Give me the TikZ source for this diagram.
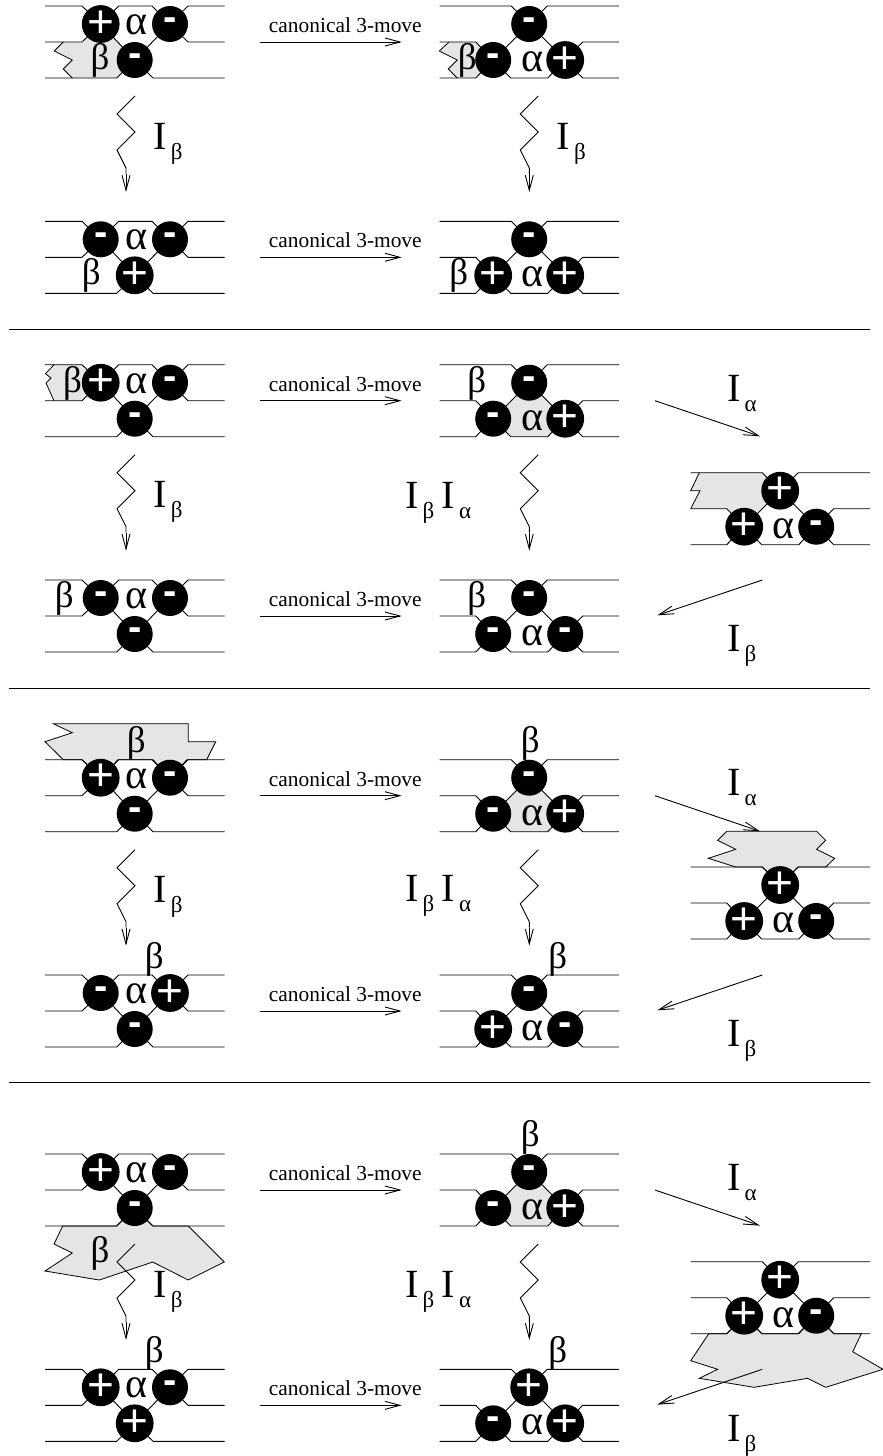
\documentclass[tikz,border=0pt]{standalone}
\usepackage{fontspec}
\setmainfont{Liberation Serif}
\newfontfamily\signfont{Liberation Sans}
\usetikzlibrary{arrows.meta}
\definecolor{regiongrey}{HTML}{E5E5E5}
\tikzset{
  x=1pt,y=-1pt,
  strand/.style={line width=0.9pt,black},
  crossing/.style={circle,fill=black,draw=none,inner sep=0pt,minimum size=36pt,text=white},
  region/.style={fill=regiongrey,draw=black,line width=0.8pt},
  softregion/.style={fill=regiongrey,draw=none},
  movearrow/.style={line width=0.9pt,-{Straight Barb[length=15pt,width=8pt]}},
  greek/.style={inner sep=0pt,anchor=base,yshift=-2.5pt,font=\fontsize{42}{42}\selectfont},
  betalabel/.style={inner sep=0pt,anchor=base,font=\fontsize{37}{37}\selectfont},
  movelabel/.style={inner sep=0pt,anchor=base,font=\fontsize{21.4}{22}\selectfont},
  ilabel/.style={inner sep=0pt,anchor=base west,font=\fontsize{40}{40}\selectfont},
  rule/.style={line width=0.9pt}
}
\newcommand{\pl}{{\signfont\fontsize{46}{46}\selectfont +}}
\newcommand{\mi}{{\signfont\bfseries\fontsize{40}{40}\selectfont -}}
\newcommand{\IB}{I\kern4pt\raisebox{-10pt}{\fontsize{23}{23}\selectfont β}}
\newcommand{\IA}{I\kern4pt\raisebox{-10pt}{\fontsize{23}{23}\selectfont α}}
% #1 name, #2 y0, #3 #4 upper left/right signs, #5 lower sign
\newcommand{\braidA}[5]{%
\begin{scope}[shift={(45,#2)}]
\coordinate (#1p) at (55.7,18); \coordinate (#1q) at (125,18); \coordinate (#1r) at (89.7,54);
\draw[strand] (0,0)--(37,0)--(#1p)--(#1r)--(108,72)--(179.5,72);
\draw[strand] (0,36)--(37,36)--(#1p)--(73.7,0)--(107,0)--(#1q)--(143,36)--(179.5,36);
\draw[strand] (0,72)--(71.7,72)--(#1r)--(#1q)--(143,0)--(179.5,0);
\node[crossing] (#1c1) at (#1p) {#3};
\node[crossing] (#1c2) at (#1q) {#4};
\node[crossing] (#1c3) at (#1r) {#5};
\node[greek] (#1al) at (92,26) {α};
\end{scope}}
% #1 name, #2 x0, #3 y0, #4 upper sign, #5 #6 lower left/right signs
\newcommand{\braidB}[6]{%
\begin{scope}[shift={(#2,#3)}]
\coordinate (#1p) at (89.5,18); \coordinate (#1q) at (53.5,54); \coordinate (#1r) at (125.5,54);
\draw[strand] (0,0)--(71.5,0)--(#1p)--(#1r)--(143,72)--(179.5,72);
\draw[strand] (0,36)--(36,36)--(#1q)--(71,72)--(108,72)--(#1r)--(143,36)--(179.5,36);
\draw[strand] (0,72)--(36,72)--(#1q)--(#1p)--(107.5,0)--(179.5,0);
\node[crossing] (#1c1) at (#1p) {#4};
\node[crossing] (#1c2) at (#1q) {#5};
\node[crossing] (#1c3) at (#1r) {#6};
\node[greek] (#1al) at (92.5,63) {α};
\end{scope}}
% #1 name, #2 x, #3 y0 of the upper block
\newcommand{\zig}[3]{%
\begin{scope}[shift={(#2,#3)}]
\coordinate (#1s) at (9,90); \coordinate (#1e) at (0,186);
\draw[strand] (#1s)--(-9,108)--(9,126)--(-9,144)--(0,162)--(0,168);
\draw[movearrow] (0,168)--(#1e);
\end{scope}}
% #1 name, #2 y of the block's arrow line
\newcommand{\canon}[2]{%
\coordinate (#1s) at (260.3,#2); \coordinate (#1e) at (401.7,#2);
\draw[movearrow] (#1s)--(#1e);
\node[movelabel] (#1t) at (345.3,#2-9.7) {canonical 3-move};}
\begin{document}
\begin{tikzpicture}
\useasboundingbox (0,0) rectangle (883,1456);
% shaded regions
\fill[softregion] (63.3,42)--(54.3,51)--(72.3,60)--(63.3,69)--(72.3,78)--(117,78)--(134.7,60)--(118,42)--(100.7,24)--(82.7,42)--cycle;
\draw[region,fill=none] (63.3,42)--(54.3,51)--(72.3,60)--(63.3,69)--(72.3,78);
\fill[softregion] (449,42)--(439.3,51)--(457.3,60)--(448.3,69)--(457.3,78)--(476,78)--(493.3,60)--(476,42)--cycle;
\draw[region,fill=none] (449,42)--(439.3,51)--(457.3,60)--(448.3,69)--(457.3,78);
% row 2
\fill[softregion] (54,364.7)--(45.5,373.7)--(51,378)--(46,383)--(54,400.7)--(81.7,400.7)--(100.7,382.7)--(81.7,364.7)--cycle;
\draw[region,fill=none] (54,364.7)--(45.5,373.7)--(51,378)--(46,383)--(54,400.7);
\fill[softregion] (529.3,382.7)--(565.3,418.7)--(547.3,436.7)--(511.3,436.7)--(493.3,418.7)--cycle;
\fill[softregion] (699.3,472.7)--(690.7,490.7)--(700,490.7)--(690.7,508.7)--(727,508.7)--(744.3,526)--(762.3,508.7)--(780.3,490.7)--(762.3,472.7)--cycle;
\draw[region,fill=none] (699.3,472.7)--(690.7,490.7)--(700,490.7)--(690.7,508.7);
% row 3
\path[region] (53.3,723.7)--(188.3,723.7)--(188.3,741.7)--(215.7,741.7)--(206.7,759.7)--(187,759.7)--(170,777.7)--(153,759.7)--(118,759.7)--(100.7,777.7)--(82,759.7)--(63.3,759.7)--(45,741.7)--(72.3,732.7)--cycle;
\fill[softregion] (529.3,777.7)--(565.3,813.7)--(547.3,831.7)--(511.3,831.7)--(493.3,813.7)--cycle;
\path[region] (726.7,831.3)--(816.7,831.3)--(825.7,840.3)--(816.7,849.3)--(834.7,858.3)--(825.7,867)--(798,867)--(780.3,885)--(762.3,867)--(735.7,867)--(708.3,858.3)--(735.7,849.3)--(717.7,840.3)--cycle;
% row 4
\path[region] (62.7,1226)--(54,1244)--(72.3,1253)--(45,1271)--(99.3,1280)--(152.7,1262)--(188.3,1280)--(224.3,1262)--(188.3,1226)--(152.7,1226)--(134.7,1208)--(116.7,1226)--cycle;
\fill[softregion] (529.3,1172)--(565.3,1208)--(547.3,1226)--(511.3,1226)--(493.3,1208)--cycle;
\path[region] (708.7,1333.7)--(690.7,1360.7)--(717.7,1369.3)--(699.3,1378.3)--(754,1387.3)--(807.7,1378.3)--(825.7,1387.3)--(883,1369.3)--(852.7,1351.7)--(861.3,1333.7)--(834,1333.7)--(816.3,1315.7)--(798,1333.7)--(762,1333.7)--(744.3,1315.7)--(726.7,1333.7)--cycle;
% row 1
\braidA{aa}{6}{\pl}{\mi}{\mi}
\braidA{ab}{221.3}{\mi}{\mi}{\pl}
\braidB{ac}{439.7}{6}{\mi}{\mi}{\pl}
\braidB{ad}{439.7}{221.3}{\mi}{\pl}{\pl}
\canon{am}{42}
\canon{an}{257.3}
\zig{az}{126}{6}
\zig{ay}{529.3}{6}
\node[betalabel] (ab1) at (100,69) {β};
\node[betalabel] (ab2) at (91.3,284.5) {β};
\node[betalabel] (ab3) at (467.2,69.5) {β};
\node[betalabel] (ab4) at (458.7,284.5) {β};
\node[ilabel] (ai1) at (153.3,149) {\IB};
\node[ilabel] (ai2) at (556.7,149.3) {\IB};
\draw[rule] (9,329)--(870,329);
% row 2
\braidA{ba}{364.7}{\pl}{\mi}{\mi}
\braidA{bb}{580}{\mi}{\mi}{\mi}
\braidB{bc}{439.7}{364.7}{\mi}{\mi}{\pl}
\braidB{bd}{439.7}{580}{\mi}{\mi}{\mi}
\braidB{be}{690.7}{472.7}{\pl}{\pl}{\mi}
\canon{bm}{400.7}
\canon{bn}{616}
\zig{bz}{126}{364.7}
\zig{by}{529.3}{364.7}
\node[betalabel] (bb1) at (72.5,392.2) {β};
\node[betalabel] (bb2) at (64.3,607.5) {β};
\node[betalabel] (bb3) at (476.7,392.2) {β};
\node[betalabel] (bb4) at (476.7,607.5) {β};
\node[ilabel] (bi1) at (153.3,507.7) {\IB};
\node[ilabel] (bi2) at (405,508.3) {\IB};
\node[ilabel] (bi3) at (441.7,508.3) {\IA};
\node[ilabel] (bi4) at (727,401) {\IA};
\node[ilabel] (bi5) at (727,651.7) {\IB};
\coordinate (bd1s) at (655,400.7); \coordinate (bd1e) at (760,436.3);
\coordinate (bd2s) at (762.3,580); \coordinate (bd2e) at (657.3,615.3);
\draw[movearrow] (bd1s)--(bd1e);
\draw[movearrow] (bd2s)--(bd2e);
\draw[rule] (9,688)--(870,688);
% row 3
\braidA{ca}{759.7}{\pl}{\mi}{\mi}
\braidA{cb}{975}{\mi}{\pl}{\mi}
\braidB{cc}{439.7}{759.7}{\mi}{\mi}{\pl}
\braidB{cd}{439.7}{975}{\mi}{\pl}{\mi}
\braidB{ce}{690.7}{867}{\pl}{\pl}{\mi}
\canon{cm}{795.7}
\canon{cn}{1011}
\zig{cz}{126}{759.7}
\zig{cy}{529.3}{759.7}
\node[betalabel] (cb1) at (136.2,752) {β};
\node[betalabel] (cb2) at (154.3,968) {β};
\node[betalabel] (cb3) at (530.3,752) {β};
\node[betalabel] (cb4) at (557.7,968) {β};
\node[ilabel] (ci1) at (153.3,902.3) {\IB};
\node[ilabel] (ci2) at (405,901.7) {\IB};
\node[ilabel] (ci3) at (441.7,901.7) {\IA};
\node[ilabel] (ci4) at (727,795.7) {\IA};
\node[ilabel] (ci5) at (727,1046.7) {\IB};
\coordinate (cd1s) at (655,795.7); \coordinate (cd1e) at (760,831.3);
\coordinate (cd2s) at (762.3,975); \coordinate (cd2e) at (657.3,1010.3);
\draw[movearrow] (cd1s)--(cd1e);
\draw[movearrow] (cd2s)--(cd2e);
\draw[rule] (9,1082)--(870,1082);
% row 4
\braidA{da}{1154}{\pl}{\mi}{\mi}
\braidA{db}{1369.3}{\pl}{\mi}{\pl}
\braidB{dc}{439.7}{1154}{\mi}{\mi}{\pl}
\braidB{dd}{439.7}{1369.3}{\pl}{\mi}{\pl}
\braidB{de}{690.7}{1261.7}{\pl}{\pl}{\mi}
\canon{dm}{1190}
\canon{dn}{1405.3}
\zig{dz}{126}{1154}
\zig{dy}{529.3}{1154}
\node[betalabel] (db1) at (100,1262) {β};
\node[betalabel] (db2) at (154.3,1362) {β};
\node[betalabel] (db3) at (530.3,1146) {β};
\node[betalabel] (db4) at (557.7,1362) {β};
\node[ilabel] (di1) at (153.3,1297.3) {\IB};
\node[ilabel] (di2) at (405,1297) {\IB};
\node[ilabel] (di3) at (441.7,1297) {\IA};
\node[ilabel] (di4) at (727,1190) {\IA};
\node[ilabel] (di5) at (727,1441) {\IB};
\coordinate (dd1s) at (655,1190); \coordinate (dd1e) at (760,1225.6);
\coordinate (dd2s) at (762.3,1369.3); \coordinate (dd2e) at (657.3,1404.6);
\draw[movearrow] (dd1s)--(dd1e);
\draw[movearrow] (dd2s)--(dd2e);
\end{tikzpicture}
\end{document}
